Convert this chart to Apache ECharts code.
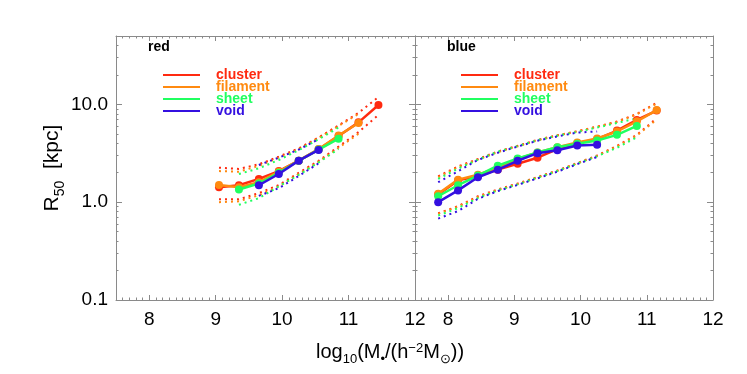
<!DOCTYPE html>
<html>
<head>
<meta charset="utf-8">
<script src="https://cdn.jsdelivr.net/npm/echarts@6/dist/echarts.min.js"></script>
<style>
  html, body { margin: 0; padding: 0; background: #fff; }
  #chart { width: 747px; height: 374px; }
</style>
</head>
<body>
<div id="chart"></div>
<script>
// stellar mass bins, log10(M*/(h^-2 Msun))
var massBins = [7.85, 8.15, 8.45, 8.75, 9.05, 9.35, 9.65, 9.95, 10.25, 10.55, 10.85, 11.15, 11.45];

// red galaxies: median R50 [kpc] per environment
var redCluster  = [null, null, null, null, 1.42, 1.49, 1.73, 2.08, 2.66, 3.47, 4.75, 6.55, 9.84];
var redFilament = [null, null, null, null, 1.50, 1.42, 1.60, 2.05, 2.66, 3.50, 4.80, 6.45, null];
var redSheet    = [null, null, null, null, null, 1.35, 1.55, 2.00, 2.65, 3.45, 4.46, null, null];
var redVoid     = [null, null, null, null, null, null, 1.49, 1.94, 2.66, 3.42, null, null, null];
// red galaxies: upper / lower percentiles
var redClusterHi  = [null, null, null, null, 2.25, 2.19, 2.44, 2.92, 3.55, 4.60, 6.10, 8.20, 11.9];
var redClusterLo  = [null, null, null, null, 1.07, 1.07, 1.24, 1.50, 2.00, 2.65, 3.70, 5.20, 7.80];
var redFilamentHi = [null, null, null, null, 2.08, 2.05, 2.35, 2.85, 3.50, 4.55, 6.00, 8.00, null];
var redFilamentLo = [null, null, null, null, 1.00, 1.02, 1.18, 1.45, 1.95, 2.60, 3.60, 5.00, null];
var redSheetHi    = [null, null, null, null, null, 1.94, 2.22, 2.70, 3.40, 4.40, 5.80, null, null];
var redSheetLo    = [null, null, null, null, null, 0.94, 1.10, 1.45, 1.90, 2.55, 3.50, null, null];
var redVoidHi     = [null, null, null, null, null, null, 2.40, 2.85, 3.45, 4.40, null, null, null];
var redVoidLo     = [null, null, null, null, null, null, 1.16, 1.39, 1.85, 2.50, null, null, null];

// blue galaxies: median R50 [kpc] per environment
var blueCluster  = [1.20, 1.67, 1.84, 2.15, 2.47, 2.85, 3.49, 4.01, 4.41, 5.40, 6.93, 8.65, null];
var blueFilament = [1.22, 1.70, 1.91, 2.25, 2.76, 3.22, 3.65, 4.07, 4.48, 5.28, 6.71, 8.75, null];
var blueSheet    = [1.15, 1.49, 1.87, 2.36, 2.80, 3.22, 3.65, 3.95, 4.27, 4.88, 6.02, null, null];
var blueVoid     = [1.00, 1.32, 1.80, 2.15, 2.65, 3.17, 3.40, 3.80, 3.86, null, null, null, null];
// blue galaxies: upper / lower percentiles
var blueClusterHi  = [1.84, 2.32, 2.76, 3.30, 3.77, 4.34, 4.84, 5.31, 5.93, 6.67, 7.97, 10.4, null];
var blueClusterLo  = [0.77, 0.91, 1.15, 1.35, 1.55, 1.81, 2.11, 2.51, 3.00, 3.77, 4.88, 7.20, null];
var blueFilamentHi = [1.80, 2.28, 2.72, 3.25, 3.72, 4.28, 4.80, 5.28, 5.90, 6.60, 7.90, 10.2, null];
var blueFilamentLo = [0.76, 0.90, 1.13, 1.33, 1.53, 1.79, 2.09, 2.49, 2.97, 3.72, 4.80, 7.00, null];
var blueSheetHi    = [1.73, 2.20, 2.72, 3.28, 3.75, 4.30, 4.78, 5.22, 5.80, 6.45, 7.20, null, null];
var blueSheetLo    = [0.73, 0.87, 1.10, 1.32, 1.52, 1.78, 2.08, 2.48, 2.95, 3.60, 4.60, null, null];
var blueVoidHi     = [1.60, 2.07, 2.70, 3.20, 3.70, 4.25, 4.70, 5.15, 5.28, null, null, null, null];
var blueVoidLo     = [0.68, 0.81, 1.08, 1.30, 1.50, 1.75, 2.05, 2.45, 2.90, null, null, null, null];

var envNames  = ['cluster', 'filament', 'sheet', 'void'];
var envColors = ['#ff2a10', '#ff8a10', '#20ff60', '#3410e0'];

// axis ticks
var xMajorTicks = [8, 9, 10, 11, 12];
var yMajorLabels = { '0.1': '0.1', '1': '1.0', '10': '10.0' };
var xMinorTicks = [];
for (var i = 76; i <= 119; i++) xMinorTicks.push(i / 10);
var yMinorTicks = []; // log10 positions of 2..9 x 10^d
[-1, 0, 1].forEach(function (d) {
  for (var k = 2; k <= 9; k++) {
    var v = Math.log10(k) + d;
    if (v < Math.log10(50)) yMinorTicks.push(v);
  }
});

var axisGray = '#8a8a8a';
var font = 'Liberation Sans, Arial, sans-serif';

function pts(ys) {
  var out = [];
  ys.forEach(function (y, i) { if (y != null) out.push([massBins[i], y]); });
  return out;
}

function xAxes(g) {
  var base = { gridIndex: g, type: 'value', min: 7.5, max: 12, splitLine: { show: false } };
  var line = { onZero: false, lineStyle: { color: axisGray, width: 1 } };
  var noLine = { show: false, onZero: false };
  return [
    Object.assign({}, base, {
      position: 'bottom', axisLine: line,
      axisTick: { inside: true, length: 5, customValues: xMajorTicks, lineStyle: { color: axisGray } },
      axisLabel: { customValues: xMajorTicks, color: '#000', fontSize: 19, fontFamily: font, margin: 10 }
    }),
    Object.assign({}, base, {
      position: 'top', axisLine: line,
      axisTick: { inside: true, length: 5, customValues: xMajorTicks, lineStyle: { color: axisGray } },
      axisLabel: { show: false }
    }),
    Object.assign({}, base, {
      position: 'bottom', axisLine: noLine,
      axisTick: { inside: true, length: 2.5, customValues: xMinorTicks, lineStyle: { color: axisGray } },
      axisLabel: { show: false }
    }),
    Object.assign({}, base, {
      position: 'top', axisLine: noLine,
      axisTick: { inside: true, length: 2.5, customValues: xMinorTicks, lineStyle: { color: axisGray } },
      axisLabel: { show: false }
    })
  ];
}

function yAxes(g) {
  var logBase = { gridIndex: g, type: 'log', logBase: 10, min: 0.1, max: 50, splitLine: { show: false } };
  var minorBase = { gridIndex: g, type: 'value', min: -1, max: Math.log10(50), splitLine: { show: false },
    axisLine: { show: false, onZero: false }, axisLabel: { show: false },
    axisTick: { inside: true, length: 2.5, customValues: yMinorTicks, lineStyle: { color: axisGray } } };
  var left = Object.assign({}, logBase, {
    position: 'left',
    axisLine: { onZero: false, lineStyle: { color: axisGray, width: 1 } },
    axisTick: { inside: true, length: 6, lineStyle: { color: axisGray } },
    axisLabel: g === 0 ? {
      color: '#000', fontSize: 19, fontFamily: font, margin: 8, showMaxLabel: false,
      formatter: function (v) { return yMajorLabels[String(+v.toPrecision(3))] || ''; }
    } : { show: false }
  });
  if (g === 0) {
    left.name = '{a|R}{s|50}{a|  [kpc]}';
    left.nameLocation = 'middle';
    left.nameGap = 44;
    left.nameTextStyle = {
      fontFamily: font,
      rich: {
        a: { fontSize: 21, fontFamily: font, color: '#000' },
        s: { fontSize: 14, fontFamily: font, color: '#000', verticalAlign: 'bottom', padding: [0, 0, -4, 0] }
      }
    };
  }
  return [
    left,
    Object.assign({}, logBase, {
      position: 'right',
      axisLine: { onZero: false, lineStyle: { color: axisGray, width: 1 } },
      axisTick: { inside: true, length: 6, lineStyle: { color: axisGray } },
      axisLabel: { show: false }
    }),
    Object.assign({}, minorBase, { position: 'left' }),
    Object.assign({}, minorBase, { position: 'right' })
  ];
}

function panelSeries(g, medians, bands) {
  var out = [];
  medians.forEach(function (ys, e) {
    var c = envColors[e];
    out.push({
      name: envNames[e], type: 'line', xAxisIndex: g * 4, yAxisIndex: g * 4,
      data: pts(bands[e][0]), symbol: 'none', silent: true,
      lineStyle: { color: c, width: 2, type: [2, 4] }, itemStyle: { color: c }, z: 2
    });
    out.push({
      name: envNames[e], type: 'line', xAxisIndex: g * 4, yAxisIndex: g * 4,
      data: pts(bands[e][1]), symbol: 'none', silent: true,
      lineStyle: { color: c, width: 2, type: [2, 4] }, itemStyle: { color: c }, z: 2
    });
  });
  medians.forEach(function (ys, e) {
    var c = envColors[e];
    out.push({
      name: envNames[e], type: 'line', xAxisIndex: g * 4, yAxisIndex: g * 4,
      data: pts(ys), symbol: 'circle', symbolSize: 8, showSymbol: true,
      lineStyle: { color: c, width: 2.5 }, itemStyle: { color: c }, z: 3 + e
    });
  });
  return out;
}

function legendFor(left) {
  return {
    left: left, top: 68, padding: 0, orient: 'vertical', itemWidth: 37, itemHeight: 2, itemGap: -2,
    selectedMode: false,
    data: envNames.map(function (n, e) {
      return { name: n, icon: 'rect', itemStyle: { color: envColors[e] },
        textStyle: { color: envColors[e] } };
    }),
    textStyle: { fontSize: 14, fontWeight: 'bold', fontFamily: font, lineHeight: 12, padding: [0, 0, 0, 11] }
  };
}

var chart = echarts.init(document.getElementById('chart'), null, { renderer: 'canvas' });
chart.setOption({
  animation: false,
  backgroundColor: '#fff',
  title: [
    { text: 'red', left: 148, top: 40, padding: 0,
      textStyle: { fontSize: 14, fontWeight: 'bold', fontFamily: font, color: '#000' } },
    { text: 'blue', left: 447, top: 40, padding: 0,
      textStyle: { fontSize: 14, fontWeight: 'bold', fontFamily: font, color: '#000' } },
    { text: '{a|log}{s|10}{a|(M}{s|•}{a|/(h}{p|−2}{a|M}{s|⊙}{a|))}', left: 316, top: 342, padding: 0,
      textStyle: {
        fontFamily: font, fontWeight: 'normal',
        rich: {
          a: { fontSize: 20, fontFamily: font, fontWeight: 'normal', color: '#000' },
          s: { fontSize: 13, fontFamily: font, fontWeight: 'normal', color: '#000', verticalAlign: 'bottom', padding: [0, 0, -4, 0] },
          p: { fontSize: 13, fontFamily: font, fontWeight: 'normal', color: '#000', verticalAlign: 'top' }
        }
      } }
  ],
  legend: [legendFor(163), legendFor(461)],
  grid: [
    { left: 116, top: 36, width: 299, height: 264 },
    { left: 415, top: 36, width: 298, height: 264 }
  ],
  xAxis: xAxes(0).concat(xAxes(1)),
  yAxis: yAxes(0).concat(yAxes(1)),
  series: panelSeries(0,
    [redCluster, redFilament, redSheet, redVoid],
    [[redClusterHi, redClusterLo], [redFilamentHi, redFilamentLo], [redSheetHi, redSheetLo], [redVoidHi, redVoidLo]]
  ).concat(panelSeries(1,
    [blueCluster, blueFilament, blueSheet, blueVoid],
    [[blueClusterHi, blueClusterLo], [blueFilamentHi, blueFilamentLo], [blueSheetHi, blueSheetLo], [blueVoidHi, blueVoidLo]]
  ))
});
</script>
</body>
</html>
